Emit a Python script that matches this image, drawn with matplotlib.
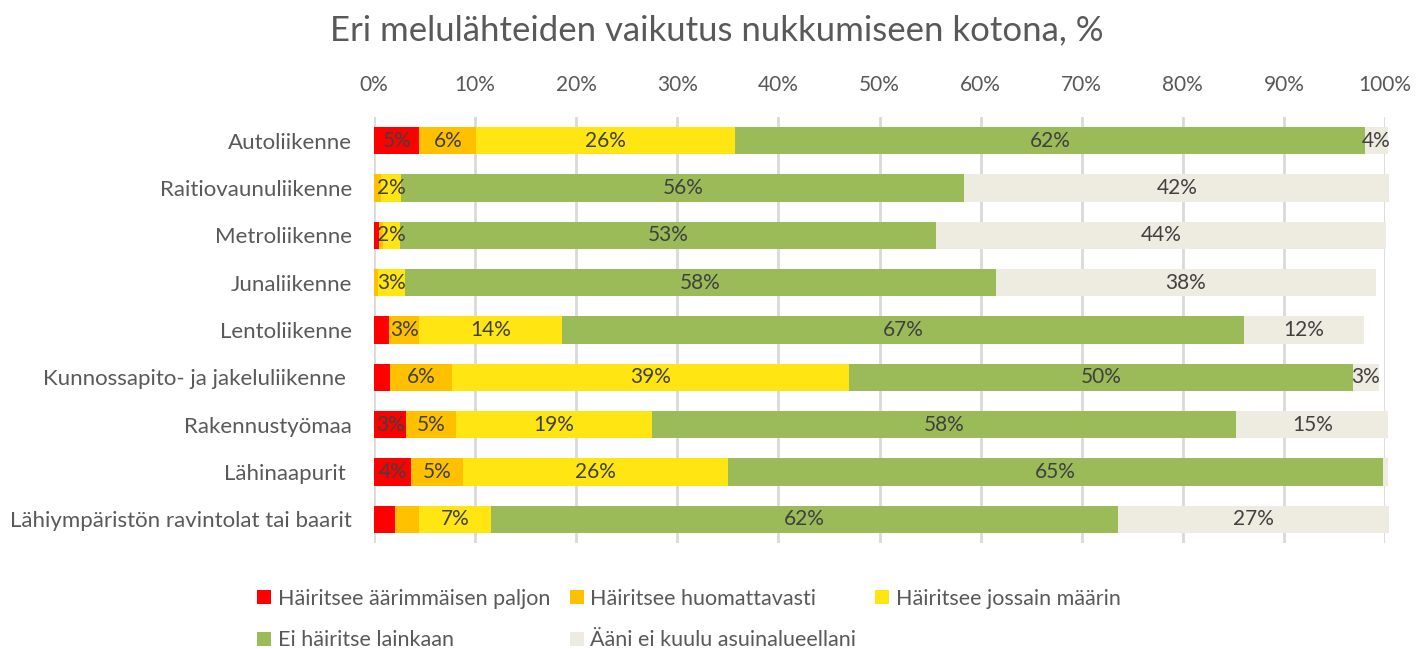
import matplotlib
matplotlib.use("Agg")
import matplotlib.pyplot as plt
import numpy as np

plt.rcParams['font.family'] = ['Lato', 'DejaVu Sans']

categories = ["Autoliikenne", "Raitiovaunuliikenne", "Metroliikenne", "Junaliikenne",
              "Lentoliikenne", "Kunnossapito- ja jakeluliikenne ", "Rakennustyömaa",
              "Lähinaapurit ", "Lähiympäristön ravintolat tai baarit"]

series_names = ["Häiritsee äärimmäisen paljon", "Häiritsee huomattavasti",
                "Häiritsee jossain määrin", "Ei häiritse lainkaan",
                "Ääni ei kuulu asuinalueellani"]

extreme = [4.5, 0.0, 0.5, 0.0, 1.5, 1.6, 3.2, 3.7, 2.1]
considerable = [5.6, 0.7, 0.4, 0.4, 3.0, 6.1, 4.9, 5.1, 2.4]
somewhat = [25.6, 2.0, 1.7, 2.7, 14.1, 39.3, 19.4, 26.2, 7.1]
not_at_all = [62.3, 55.7, 53.0, 58.4, 67.5, 49.8, 57.8, 64.8, 62.0]
not_heard = [2.3, 42.0, 44.5, 37.6, 11.8, 2.6, 15.0, 0.5, 26.8]

labels_extreme = ["5%", "", "", "", "", "", "3%", "4%", ""]
labels_considerable = ["6%", "", "", "", "3%", "6%", "5%", "5%", ""]
labels_somewhat = ["26%", "2%", "2%", "3%", "14%", "39%", "19%", "26%", "7%"]
labels_not_at_all = ["62%", "56%", "53%", "58%", "67%", "50%", "58%", "65%", "62%"]
labels_not_heard = ["4%", "42%", "44%", "38%", "12%", "3%", "15%", "", "27%"]

x_ticks = [0, 10, 20, 30, 40, 50, 60, 70, 80, 90, 100]

colors = ["#FF0000", "#FFC000", "#FFE512", "#9BBB59", "#EEECE1"]
values = [extreme, considerable, somewhat, not_at_all, not_heard]
labels = [labels_extreme, labels_considerable, labels_somewhat, labels_not_at_all, labels_not_heard]

fig = plt.figure(figsize=(14.28, 6.49), dpi=100)
ax = fig.add_axes([374/1428, 1-543/649, (1385-374)/1428, (543-117)/649])

y = np.arange(len(categories))
left = np.zeros(len(categories))
handles = []
for vals, col, name, labs in zip(values, colors, series_names, labels):
    vals = np.array(vals)
    b = ax.barh(y, vals, left=left, height=0.58, color=col, label=name, zorder=3)
    for p in b.patches:
        p.set_clip_on(False)
    handles.append(b)
    for i, (v, l) in enumerate(zip(vals, labs)):
        if l:
            ax.text(left[i] + v / 2, y[i], l, ha='center', va='center',
                    fontsize=15, color='#404040', zorder=4)
    left = left + vals

ax.set_xlim(0, 100)
ax.set_ylim(8.5, -0.5)
ax.set_xticks(x_ticks)
ax.set_xticklabels([f"{t}%" for t in x_ticks])
ax.xaxis.tick_top()
ax.tick_params(axis='x', length=0, pad=16, labelsize=15, labelcolor='#595959')
ax.set_yticks(y)
ax.set_yticklabels(categories)
ax.tick_params(axis='y', length=0, pad=16, labelsize=16, labelcolor='#595959')
ax.grid(axis='x', color='#D9D9D9', linewidth=2, zorder=0)
for s in ax.spines.values():
    s.set_visible(False)

fig.suptitle("Eri melulähteiden vaikutus nukkumiseen kotona, %", x=0.502, y=0.978,
             fontsize=25, color='#595959')

order = [0, 3, 1, 4, 2]
leg = fig.legend([handles[i] for i in order], [series_names[i] for i in order],
                 ncol=3, loc='lower left', bbox_to_anchor=(238/1428, -0.032),
                 frameon=False, fontsize=15.5, handlelength=0.65, handleheight=0.65,
                 handletextpad=0.3, columnspacing=0.9, labelspacing=1.0)
for t in leg.get_texts():
    t.set_color('#595959')

fig.savefig("out.png", dpi=100)
